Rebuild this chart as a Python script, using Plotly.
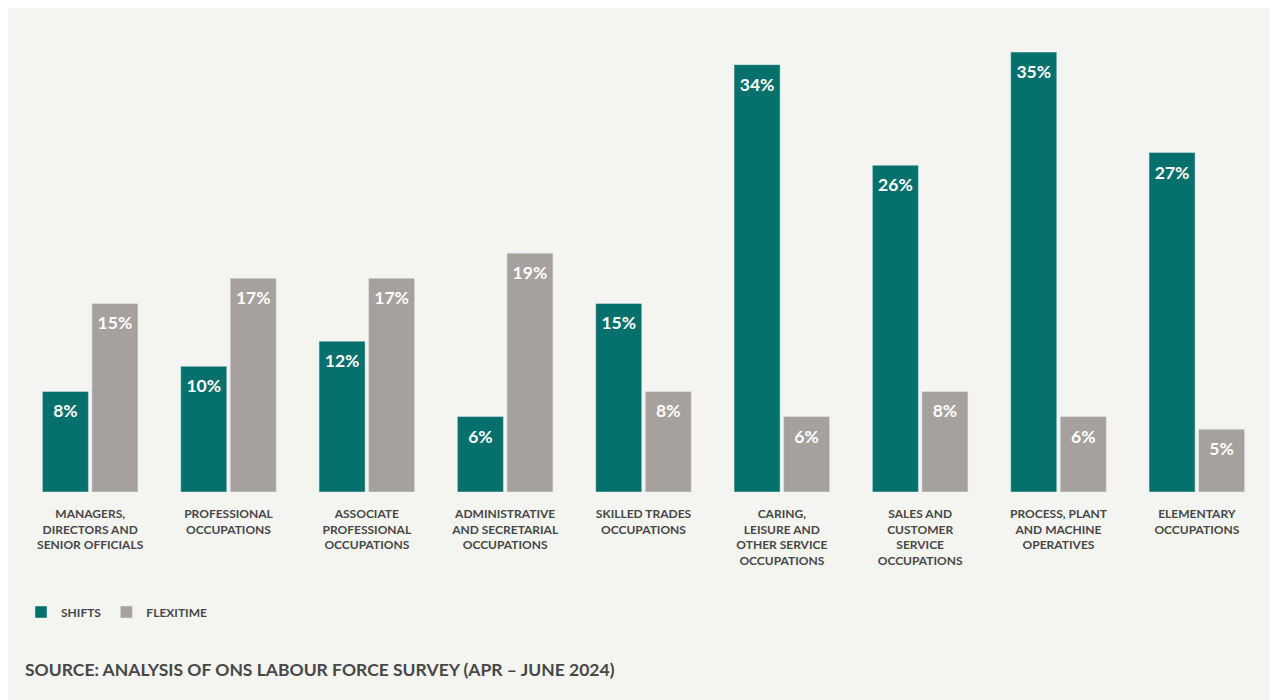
import plotly.graph_objects as go

categories = [
    "MANAGERS,<br>DIRECTORS AND<br>SENIOR OFFICIALS",
    "PROFESSIONAL<br>OCCUPATIONS",
    "ASSOCIATE<br>PROFESSIONAL<br>OCCUPATIONS",
    "ADMINISTRATIVE<br>AND SECRETARIAL<br>OCCUPATIONS",
    "SKILLED TRADES<br>OCCUPATIONS",
    "CARING,<br>LEISURE AND<br>OTHER SERVICE<br>OCCUPATIONS",
    "SALES AND<br>CUSTOMER<br>SERVICE<br>OCCUPATIONS",
    "PROCESS, PLANT<br>AND MACHINE<br>OPERATIVES",
    "ELEMENTARY<br>OCCUPATIONS",
]
shifts = [8, 10, 12, 6, 15, 34, 26, 35, 27]
flexitime = [15, 17, 17, 19, 8, 6, 8, 6, 5]

TEAL = "#06706c"
GREY = "#a7a19d"
PANEL = "#f4f4f0"
DARK = "#474747"
FONT = "Lato, 'Open Sans', sans-serif"

W, H = 1275, 700
ml, mr, mt, mb = 21, 9, 40, 208
pw, ph = W - ml - mr, H - mt - mb

def px_x(x):
    return (x - ml) / pw

def px_y(y):
    return (H - mb - y) / ph

fig = go.Figure()
series = (("SHIFTS", shifts, TEAL), ("FLEXITIME", flexitime, GREY))
for name, vals, col in series:
    fig.add_trace(go.Bar(
        name=name, x=categories, y=vals, marker_color=col,
        offsetgroup=name, hoverinfo="skip",
    ))
for name, vals, col in series:
    fig.add_trace(go.Scatter(
        x=categories, y=vals, mode="markers+text", offsetgroup=name,
        text=[f"{v}%" for v in vals], textposition="bottom center",
        marker=dict(size=19, opacity=0, color=col),
        textfont=dict(color="white", size=17.5, family=FONT, weight=700),
        showlegend=False, hoverinfo="skip",
    ))

fig.add_shape(type="rect", xref="paper", yref="paper",
              x0=px_x(8), x1=px_x(1270), y0=px_y(700), y1=px_y(8),
              fillcolor=PANEL, line_width=0, layer="below")

fig.add_annotation(
    text="SOURCE: ANALYSIS OF ONS LABOUR FORCE SURVEY (APR – JUNE 2024)",
    xref="paper", yref="paper", x=px_x(23), y=px_y(669),
    xanchor="left", yanchor="middle", showarrow=False,
    font=dict(size=17.5, color=DARK, family=FONT, weight=700),
)

fig.update_layout(
    width=W, height=H,
    margin=dict(l=ml, r=mr, t=mt, b=mb, pad=0),
    paper_bgcolor="white", plot_bgcolor="rgba(0,0,0,0)",
    barmode="group", bargap=0.284, bargroupgap=0.07,
    scattermode="group", scattergap=0.284,
    font=dict(family=FONT, color=DARK),
    showlegend=True,
    legend=dict(
        orientation="h", x=px_x(21), y=px_y(612), xanchor="left", yanchor="middle",
        font=dict(size=12, color=DARK, family=FONT, weight=700),
        bgcolor="rgba(0,0,0,0)", itemclick=False, itemdoubleclick=False,
    ),
    xaxis=dict(
        showgrid=False, zeroline=False, showline=False, ticks="",
        tickfont=dict(size=12, color=DARK, family=FONT, weight=700),
        ticklabelstandoff=13, fixedrange=True,
    ),
    yaxis=dict(
        range=[0, 35.96], visible=False, showgrid=False, zeroline=False,
        fixedrange=True,
    ),
)

fig.write_html("out.html", config={"displayModeBar": False})
